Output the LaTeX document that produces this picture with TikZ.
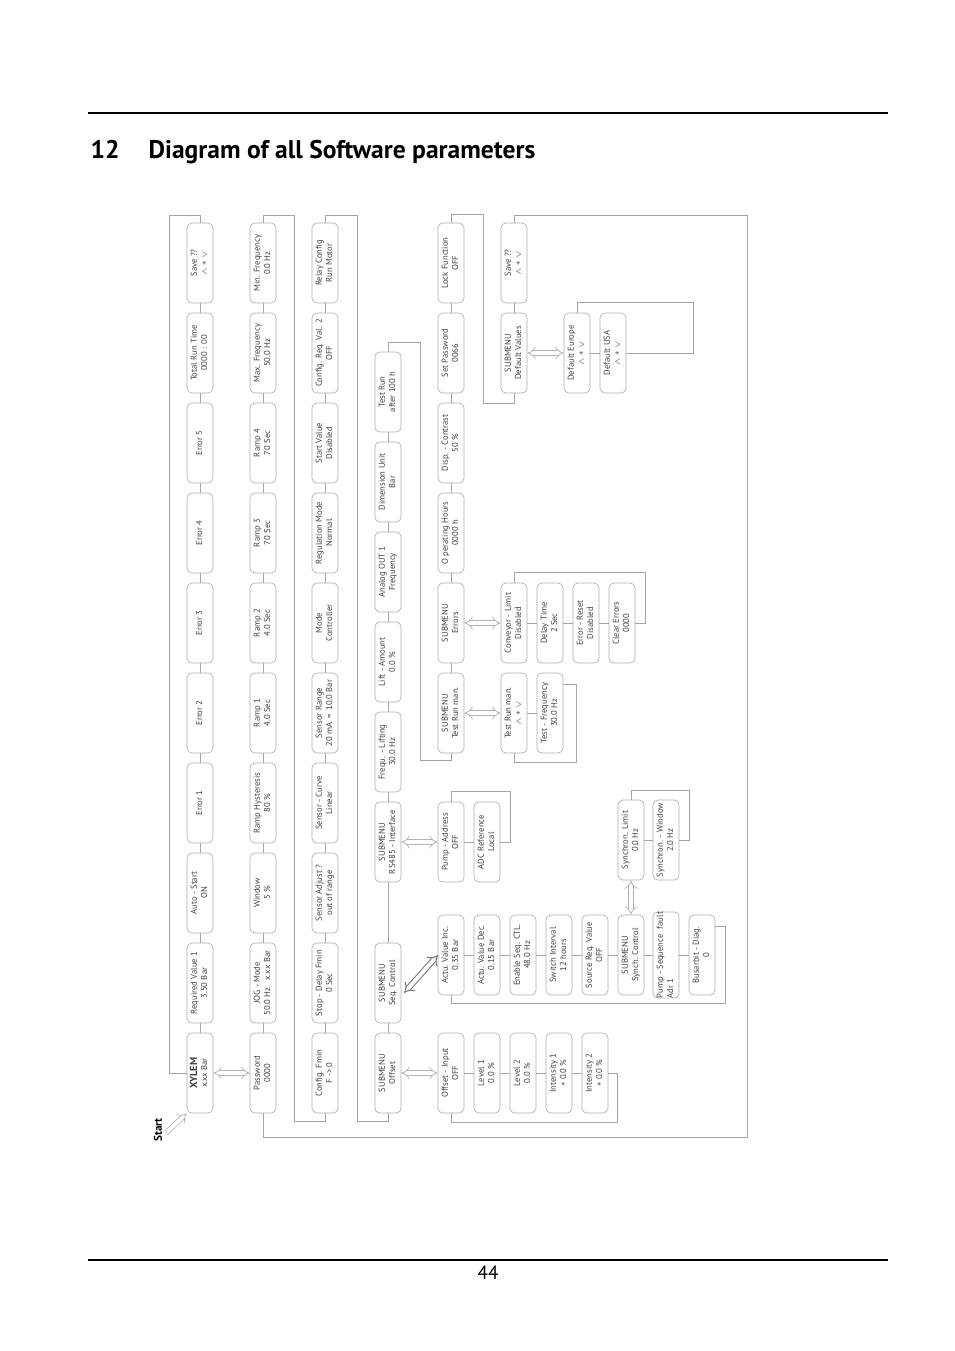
\documentclass[tikz,border=0pt]{standalone}
\usepackage{amsmath}
\usepackage{fontspec}
\setmainfont{PT Sans}
\newfontfamily\titlefont{PT Sans}
\usepackage[dvipsnames]{xcolor}
\usetikzlibrary{shapes, arrows.meta, positioning}

\newcommand{\rt}[1]{\rotatebox{90}{\begin{tabular}{@{}c@{}}#1\end{tabular}}}
\newcommand{\updown}{$\wedge$ + $\vee$}

\tikzset{
  menubox/.style={draw=gray!65, line width=0.4pt, rounded corners=3pt, inner sep=0pt,
    minimum width=16.3pt, minimum height=50.1pt, text=black!75,
    font=\fontsize{5.4pt}{6.3pt}\selectfont},
  menuline/.style={draw=gray!70, line width=0.4pt},
  dualarrow/.style={draw=gray!60, line width=0.45pt, double=white, double distance=2.4pt, {Implies}-{Implies}},
  startarrow/.style={draw=gray!60, line width=0.45pt, double=white, double distance=2.4pt, -{Implies}}
}

\begin{document}
\begin{tikzpicture}[x=0.6263pt, y=-0.6263pt]
	\useasboundingbox (0,0) rectangle (954,1351);
	% page header and footer
	\draw[line width=0.9pt] (88,113) -- (888,113);
	\draw[line width=0.9pt] (88,1260) -- (888,1260);
	\node[anchor=base west, font=\titlefont\bfseries\fontsize{16pt}{19pt}\selectfont] (secnum) at (85,158) {12};
	\node[anchor=base west, font=\titlefont\bfseries\fontsize{16pt}{19pt}\selectfont] (sectitle) at (143,158) {Diagram of all Software parameters};
	\node[font=\titlefont\fontsize{12pt}{14pt}\selectfont] (pagenum) at (488,1273) {44};

	% main menu
	\node[menubox] (xylem) at (200,1073) {\rt{{\fontsize{6.4pt}{6.4pt}\selectfont\bfseries XYLEM}\\x.xx Bar}};
	\node[menubox] (reqval) at (200,983) {\rt{Required Value 1\\3.50 Bar}};
	\node[menubox] (autostart) at (200,893) {\rt{Auto - Start\\ON}};
	\node[menubox] (errone) at (200,803) {\rt{Error 1}};
	\node[menubox] (errtwo) at (200,713) {\rt{Error 2}};
	\node[menubox] (errthree) at (200,623) {\rt{Error 3}};
	\node[menubox] (errfour) at (200,533) {\rt{Error 4}};
	\node[menubox] (errfive) at (200,443) {\rt{Error 5}};
	\node[menubox] (runtime) at (200,353) {\rt{Total Run Time\\0000 : 00}};
	\node[menubox] (savemain) at (200,263) {\rt{Save ??\\\updown}};

	% password row
	\node[menubox] (password) at (263,1073) {\rt{Password\\0000}};
	\node[menubox] (jogmode) at (263,983) {\rt{JOG - Mode\\50.0 Hz\ \ \ x.xx Bar}};
	\node[menubox] (window) at (263,893) {\rt{Window\\5 \%}};
	\node[menubox] (ramphyst) at (263,803) {\rt{Ramp Hysteresis\\80 \%}};
	\node[menubox] (rampone) at (263,713) {\rt{Ramp 1\\4.0 Sec}};
	\node[menubox] (ramptwo) at (263,623) {\rt{Ramp 2\\4.0 Sec}};
	\node[menubox] (rampthree) at (263,533) {\rt{Ramp 3\\70 Sec}};
	\node[menubox] (rampfour) at (263,443) {\rt{Ramp 4\\70 Sec}};
	\node[menubox] (maxfreq) at (263,353) {\rt{Max. Frequency\\50.0 Hz}};
	\node[menubox] (minfreq) at (263,263) {\rt{Min. Frequency\\0.0 Hz}};

	% config row
	\node[menubox] (cfgfmin) at (325,1073) {\rt{Config. Fmin\\F -> 0}};
	\node[menubox] (stopdelay) at (325,983) {\rt{Stop - Delay Fmin\\0 Sec}};
	\node[menubox] (sensadj) at (325,893) {\rt{Sensor Adjust ?\\out of range}};
	\node[menubox] (senscurve) at (325,803) {\rt{Sensor - Curve\\Linear}};
	\node[menubox] (sensrange) at (325,713) {\rt{Sensor Range\\20 mA\ \,=\ \,10.0 Bar}};
	\node[menubox] (modectl) at (325,623) {\rt{Mode\\Controller}};
	\node[menubox] (regmode) at (325,533) {\rt{Regulation Mode\\Normal}};
	\node[menubox] (startval) at (325,443) {\rt{Start Value\\Disabled}};
	\node[menubox] (cfgreqval) at (325,353) {\rt{Config. Req. Val. 2\\OFF}};
	\node[menubox] (relaycfg) at (325,263) {\rt{Relay Config\\Run Motor}};

	% submenu row
	\node[menubox] (suboffset) at (388,1073) {\rt{SUBMENU\\Offset}};
	\node[menubox] (subseq) at (388,983) {\rt{SUBMENU\\Seq. Control}};
	\node[menubox] (subbus) at (388,842) {\rt{SUBMENU\\RS485 - Interface}};
	\node[menubox] (freqlift) at (388,752) {\rt{Frequ. - Lifting\\30.0 Hz}};
	\node[menubox] (liftamt) at (388,662) {\rt{Lift - Amount\\0.0 \%}};
	\node[menubox] (analogout) at (388,572) {\rt{Analog OUT 1\\Frequency}};
	\node[menubox] (dimunit) at (388,482) {\rt{Dimension Unit\\Bar}};
	\node[menubox] (testrun) at (388,392) {\rt{Test Run\\after 100 h}};

	% service row
	\node[menubox] (subtest) at (451,713) {\rt{SUBMENU\\Test Run man.}};
	\node[menubox] (suberr) at (451,623) {\rt{SUBMENU\\Errors}};
	\node[menubox] (ophours) at (451,533) {\rt{O perating Hours\\0000 h}};
	\node[menubox] (contrast) at (451,443) {\rt{Disp. - Contrast\\50 \%}};
	\node[menubox] (setpwd) at (451,353) {\rt{Set Password\\0066}};
	\node[menubox] (lockfn) at (451,263) {\rt{Lock Function\\OFF}};

	% default row
	\node[menubox] (subdefault) at (514,353) {\rt{SUBMENU\\Default Values}};
	\node[menubox] (savedefault) at (514,263) {\rt{Save ??\\\updown}};

	% submenu items
	\node[menubox] (europe) at (577,353) {\rt{Default Europe\\\updown}};
	\node[menubox] (usa) at (613,353) {\rt{Default USA\\\updown}};
	\node[menubox] (testman) at (514,713) {\rt{Test Run man.\\\updown}};
	\node[menubox] (testfreq) at (550,713) {\rt{Test - Frequency\\30.0 Hz}};
	\node[menubox] (conveyor) at (514,623) {\rt{Conveyor - Limit\\Disabled}};
	\node[menubox] (delaytime) at (550,623) {\rt{Delay Time\\2 Sec}};
	\node[menubox] (errreset) at (586,623) {\rt{Error - Reset\\Disabled}};
	\node[menubox] (clearerr) at (622,623) {\rt{Clear Errors\\0000}};
	\node[menubox] (pumpaddr) at (451,842) {\rt{Pump - Address\\OFF}};
	\node[menubox] (adcref) at (487,842) {\rt{ADC Reference\\Local}};
	\node[menubox] (actuinc) at (451,955) {\rt{Actu. Value Inc.\\0.35 Bar}};
	\node[menubox] (actudec) at (487,955) {\rt{Actu. Value Dec.\\0.15 Bar}};
	\node[menubox] (enableseq) at (523,955) {\rt{Enable Seq. CTL.\\48.0 Hz}};
	\node[menubox] (switchint) at (559,955) {\rt{Switch Interval\\12 hours}};
	\node[menubox] (sourcereq) at (595,955) {\rt{Source Req. Value\\OFF}};
	\node[menubox] (subsynch) at (631,955) {\rt{SUBMENU\\Synch. Control}};
	\node[menubox] (pumpseq) at (666,955) {\rt{Pump - Sequence\hspace{0.6em}fault\\\multicolumn{1}{@{}l@{}}{Adr 1}}};
	\node[menubox] (busarbit) at (702,955) {\rt{Busarbit - Diag.\\0}};
	\node[menubox] (synlimit) at (631,840) {\rt{Synchron. Limit\\0.0 Hz}};
	\node[menubox] (synwindow) at (666,840) {\rt{Synchron. - Window\\2.0 Hz}};
	\node[menubox] (offsetin) at (451,1073) {\rt{Offset - Input\\OFF}};
	\node[menubox] (levelone) at (487,1073) {\rt{Level 1\\0.0 \%}};
	\node[menubox] (leveltwo) at (523,1073) {\rt{Level 2\\0.0 \%}};
	\node[menubox] (intensone) at (559,1073) {\rt{Intensity 1\\+ 0.0 \%}};
	\node[menubox] (intenstwo) at (595,1073) {\rt{Intensity 2\\+ 0.0 \%}};

	% start
	\node[rotate=90, font=\bfseries\fontsize{7pt}{8pt}\selectfont] (start) at (158,1130) {Start};
	\coordinate (startpt) at (166,1133);
	\draw[startarrow] (startpt) -- (xylem.south west);

	% chains
	\draw[menuline] (xylem) -- (reqval) -- (autostart) -- (errone) -- (errtwo) -- (errthree) -- (errfour) -- (errfive) -- (runtime) -- (savemain);
	\draw[menuline] (password) -- (jogmode) -- (window) -- (ramphyst) -- (rampone) -- (ramptwo) -- (rampthree) -- (rampfour) -- (maxfreq) -- (minfreq);
	\draw[menuline] (cfgfmin) -- (stopdelay) -- (sensadj) -- (senscurve) -- (sensrange) -- (modectl) -- (regmode) -- (startval) -- (cfgreqval) -- (relaycfg);
	\draw[menuline] (suboffset) -- (subseq) -- (subbus) -- (freqlift) -- (liftamt) -- (analogout) -- (dimunit) -- (testrun);
	\draw[menuline] (subtest) -- (suberr) -- (ophours) -- (contrast) -- (setpwd) -- (lockfn);
	\draw[menuline] (subdefault) -- (savedefault);
	\draw[menuline] (europe) -- (usa);
	\draw[menuline] (testman) -- (testfreq);
	\draw[menuline] (conveyor) -- (delaytime) -- (errreset) -- (clearerr);
	\draw[menuline] (pumpaddr) -- (adcref);
	\draw[menuline] (actuinc) -- (actudec) -- (enableseq) -- (switchint) -- (sourcereq) -- (subsynch) -- (pumpseq) -- (busarbit);
	\draw[menuline] (synlimit) -- (synwindow);
	\draw[menuline] (offsetin) -- (levelone) -- (leveltwo) -- (intensone) -- (intenstwo);

	% return lines
	\draw[menuline] (xylem.west) -| (169,215) -| (savemain.north);
	\draw[menuline] (minfreq.north) |- (294,215) |- (325,1121) -- (cfgfmin.south);
	\draw[menuline] (relaycfg.north) |- (357,215) |- (388,1121) -- (suboffset.south);
	\draw[menuline] (testrun.north) |- (420,342) |- (451,760) -- (subtest.south);
	\draw[menuline] (lockfn.north) |- (483,214) |- (514,403) -- (subdefault.south);
	\draw[menuline] (savedefault.north) |- (747,215) |- (263,1137) -- (password.south);
	\draw[menuline] (intenstwo.east) -| (617,1122) -| (offsetin.south);
	\draw[menuline] (busarbit.65) -| (725,1003) -| (actuinc.south);
	\draw[menuline] (adcref.east) -| (510,791) -| (pumpaddr.north);
	\draw[menuline] (synwindow.east) -| (689,790) -| (synlimit.north);
	\draw[menuline] (testfreq.65) -| (576,762) -| (testman.south);
	\draw[menuline] (clearerr.east) -| (645,572) -| (conveyor.north);
	\draw[menuline] (usa.east) -| (693,302) -| (europe.north);

	% submenu entries
	\coordinate (seqexit) at (404,993);
	\coordinate (seqentry) at (438,955);
	\draw[dualarrow] (xylem) -- (password);
	\draw[dualarrow] (suboffset) -- (offsetin);
	\draw[dualarrow, draw=gray, line width=0.7pt] (seqexit) -- (seqentry);
	\draw[dualarrow] (subbus) -- (pumpaddr);
	\draw[dualarrow] (subtest) -- (testman);
	\draw[dualarrow] (suberr) -- (conveyor);
	\draw[dualarrow] (subdefault) -- (europe);
	\draw[dualarrow] (subsynch) -- (synlimit);
\end{tikzpicture}
\end{document}
